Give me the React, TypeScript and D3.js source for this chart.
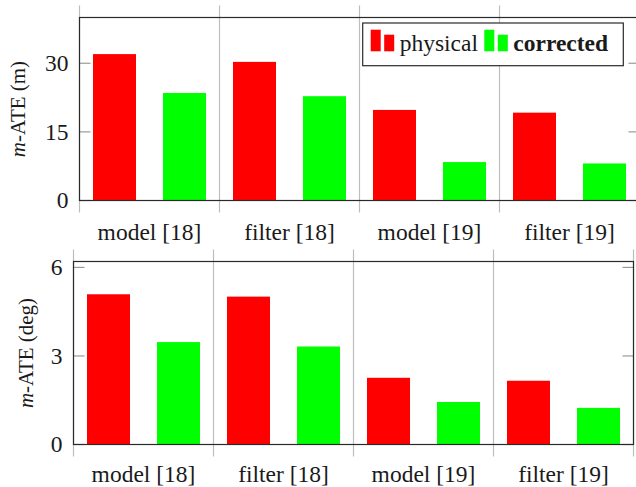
import React from "react";
import * as d3 from "d3";

const categories = ["model [18]", "filter [18]", "model [19]", "filter [19]"];
const seriesNames = ["physical", "corrected"];
const seriesColors = ["#ff0000", "#00ff00"];

// top panel: position error (m)
const physicalPos = [32.0, 30.3, 19.8, 19.2];
const correctedPos = [23.5, 22.8, 8.4, 8.1];
const posTicks = [0, 15, 30];

// bottom panel: rotation error (deg)
const physicalRot = [5.09, 5.01, 2.26, 2.16];
const correctedRot = [3.47, 3.32, 1.44, 1.24];
const rotTicks = [0, 3, 6];

const FONT = "'Liberation Serif', 'DejaVu Serif', serif";
const FS = 23.5;

interface PanelProps {
    left: number;
    right: number;
    top: number;
    bottom: number;
    yMax: number;
    ticks: number[];
    values: number[][];
    unit: string;
    labelX: number;
    xLabelGap: number;
    legend?: boolean;
}

const Panel: React.FC<PanelProps> = ({
    left,
    right,
    top,
    bottom,
    yMax,
    ticks,
    values,
    unit,
    labelX,
    xLabelGap,
    legend,
}) => {
    const x = d3.scaleBand<string>().domain(categories).range([left, right]);
    const inner = d3
        .scalePoint<string>()
        .domain(seriesNames)
        .range([0, x.bandwidth()])
        .padding(0.5);
    const y = d3.scaleLinear().domain([0, yMax]).range([bottom, top]);
    const barW = 43;
    const ext = 12; // grid lines stick out of the frame
    const tickLen = 11;
    const separators = [...categories.map((c) => x(c)!), right];

    return (
        <g>
            {/* category separators */}
            {separators.map((sx, i) => (
                <line
                    key={"g" + i}
                    x1={sx}
                    x2={sx}
                    y1={top - ext}
                    y2={bottom + ext}
                    stroke="#bdbdbd"
                    strokeWidth={1.2}
                />
            ))}

            {/* bars */}
            {values.map((vals, s) =>
                vals.map((v, i) => {
                    const cx = x(categories[i])! + inner(seriesNames[s])!;
                    return (
                        <rect
                            key={`b${s}-${i}`}
                            x={cx - barW / 2}
                            y={y(v)}
                            width={barW}
                            height={y(0) - y(v)}
                            fill={seriesColors[s]}
                        />
                    );
                })
            )}

            {/* ticks, both sides, pointing inward */}
            {ticks.map((t) => (
                <g key={"t" + t}>
                    <line
                        x1={left}
                        x2={left + tickLen}
                        y1={y(t)}
                        y2={y(t)}
                        stroke="#9a9a9a"
                        strokeWidth={1.2}
                    />
                    <line
                        x1={right - tickLen}
                        x2={right}
                        y1={y(t)}
                        y2={y(t)}
                        stroke="#9a9a9a"
                        strokeWidth={1.2}
                    />
                    <text
                        x={left - 11}
                        y={y(t)}
                        dy="0.33em"
                        textAnchor="end"
                        fontFamily={FONT}
                        fontSize={FS}
                        fill="#1a1a1a"
                    >
                        {t}
                    </text>
                </g>
            ))}

            {/* frame */}
            <rect
                x={left}
                y={top}
                width={right - left}
                height={bottom - top}
                fill="none"
                stroke="#2a2a2a"
                strokeWidth={1.2}
            />

            {/* category labels */}
            {categories.map((c) => (
                <text
                    key={"c" + c}
                    x={x(c)! + x.bandwidth() / 2}
                    y={bottom + xLabelGap}
                    textAnchor="middle"
                    fontFamily={FONT}
                    fontSize={FS}
                    fill="#1a1a1a"
                >
                    {c}
                </text>
            ))}

            {/* y label */}
            <text
                transform={`translate(${labelX},${(top + bottom) / 2}) rotate(-90)`}
                textAnchor="middle"
                fontFamily={FONT}
                fontSize={21}
                fill="#1a1a1a"
            >
                <tspan fontStyle="italic">m</tspan>-ATE ({unit})
            </text>

            {legend && (
                <g>
                    <rect
                        x={362.7}
                        y={23}
                        width={260.6}
                        height={42.7}
                        fill="#ffffff"
                        stroke="#2a2a2a"
                        strokeWidth={1.2}
                    />
                    {seriesNames.map((s, i) => {
                        const lx = i === 0 ? 370.7 : 484.3;
                        return (
                            <g key={"l" + s}>
                                <rect x={lx} y={29.7} width={10} height={21.6} fill={seriesColors[i]} />
                                <rect x={lx + 13.5} y={34.7} width={10} height={16.6} fill={seriesColors[i]} />
                                <text
                                    x={lx + 29}
                                    y={51.3}
                                    fontFamily={FONT}
                                    fontSize={FS}
                                    fontWeight={i === 1 ? "bold" : "normal"}
                                    fill="#1a1a1a"
                                >
                                    {s}
                                </text>
                            </g>
                        );
                    })}
                </g>
            )}
        </g>
    );
};

export default function App() {
    return (
        <div style={{ position: "absolute", left: 0, top: 0 }}>
            <svg width={636} height={487} style={{ display: "block", background: "#ffffff" }}>
                <Panel
                    left={79.5}
                    right={639.5}
                    top={17.5}
                    bottom={200.5}
                    yMax={40}
                    ticks={posTicks}
                    values={[physicalPos, correctedPos]}
                    unit="m"
                    labelX={25}
                    xLabelGap={39}
                    legend
                />
                <Panel
                    left={73.5}
                    right={633.5}
                    top={261.5}
                    bottom={444.5}
                    yMax={6.2}
                    ticks={rotTicks}
                    values={[physicalRot, correctedRot]}
                    unit="deg"
                    labelX={33}
                    xLabelGap={37}
                />
            </svg>
        </div>
    );
}
